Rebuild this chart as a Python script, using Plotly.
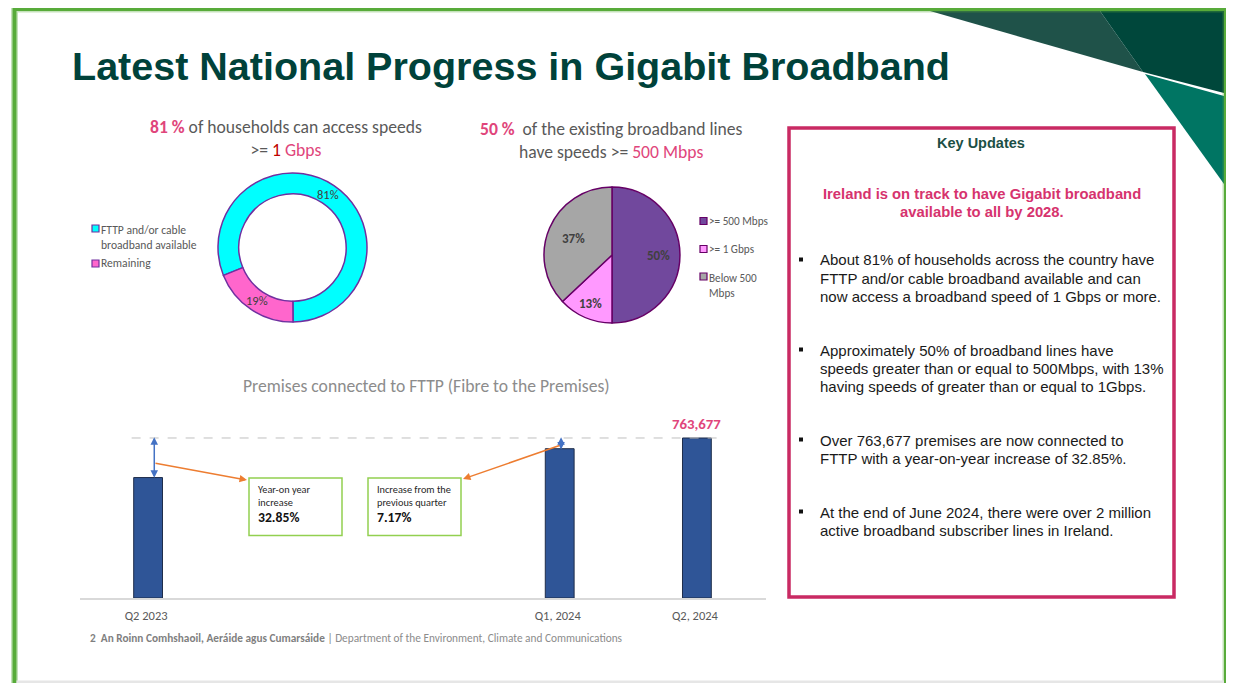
import math
import plotly.graph_objects as go

# the page body adds an 8px margin, so the figure fills the rest of the window
W, H = 1226, 675
OFF = 8

# donut: households that can access gigabit speeds
access_labels = ['FTTP and/or cable broadband available', 'Remaining']
access_legend = ['FTTP and/or cable<br>broadband available', 'Remaining']
access_values = [81, 19]
access_colors = ['#00ffff', '#ff66cc']

# pie: existing broadband lines by speed
speed_labels = ['>= 500 Mbps', '>= 1 Gbps', 'Below 500 Mbps']
speed_legend = ['&gt;= 500 Mbps', '&gt;= 1 Gbps', 'Below 500<br>Mbps']
speed_values = [50, 13, 37]
speed_colors = ['#71489d', '#ff99ff', '#a6a6a6']

# bars: premises connected to FTTP
quarters = ['Q2 2023', 'Q3 2023', 'Q4 2023', 'Q1, 2024', 'Q2, 2024']
premises = [574842, None, None, 712585, 763677]
shown_quarters = ['Q2 2023', 'Q1, 2024', 'Q2, 2024']

key_points = [
    ['About 81% of households across the country have',
     'FTTP and/or cable broadband available and can',
     'now access a broadband speed of 1 Gbps or more.'],
    ['Approximately 50% of broadband lines have',
     'speeds greater than or equal to 500Mbps, with 13%',
     'having speeds of greater than or equal to 1Gbps.'],
    ['Over 763,677 premises are now connected to',
     'FTTP with a year-on-year increase of 32.85%.'],
    ['At the end of June 2024, there were over 2 million',
     'active broadband subscriber lines in Ireland.'],
]

CAL = 'Carlito, Lato, sans-serif'
ARIAL = 'Arial, Liberation Sans, sans-serif'
PINK = '#e0457b'
GREY = '#595959'


def px(x):
    return (x - OFF) / W


def py(y):
    return 1 - (y - OFF) / H


def note(text, x, y, size, color, family=CAL, xanchor='left', yanchor='middle', align='left'):
    if xanchor == 'left':
        x -= 2
    fig.add_annotation(text=text, x=px(x), y=py(y), xref='paper', yref='paper',
                       xanchor=xanchor, yanchor=yanchor, align=align, showarrow=False,
                       font=dict(size=size, color=color, family=family))


def box(x0, y0, x1, y1, line_color, width=1, fill='rgba(0,0,0,0)'):
    fig.add_shape(type='rect', xref='paper', yref='paper',
                  x0=px(x0), x1=px(x1), y0=py(y0), y1=py(y1),
                  line=dict(color=line_color, width=width), fillcolor=fill)


def poly(points, color):
    path = 'M ' + ' L '.join(f'{px(x)},{py(y)}' for x, y in points) + ' Z'
    fig.add_shape(type='path', path=path, xref='paper', yref='paper',
                  fillcolor=color, line=dict(width=0), layer='below')


def slice_labels(values, cx, cy, r, rotation, radii, size, bold=False):
    # percent label at the middle angle of each clockwise slice
    total = sum(values)
    start = rotation
    for v, f in zip(values, radii):
        mid = math.radians(start + v / total * 180)
        text = f'{round(v / total * 100)}%'
        if bold:
            text = f'<b>{text}</b>'
        note(text, cx + r * f * math.sin(mid), cy - r * f * math.cos(mid), size,
             '#404040', xanchor='center')
        start += v / total * 360


fig = go.Figure()

fig.add_trace(go.Pie(
    labels=access_labels, values=access_values, hole=0.72, sort=False,
    direction='clockwise', rotation=-112,
    marker=dict(colors=access_colors, line=dict(color='#7030a0', width=1.5)),
    textinfo='none',
    domain=dict(x=[px(218), px(367)], y=[py(322), py(173)]),
    showlegend=False,
))

fig.add_trace(go.Pie(
    labels=speed_labels, values=speed_values, sort=False,
    direction='clockwise', rotation=0,
    marker=dict(colors=speed_colors, line=dict(color='#660066', width=1.5)),
    textinfo='none',
    domain=dict(x=[px(544), px(680)], y=[py(323), py(187)]),
    showlegend=False,
))

fig.add_trace(go.Bar(
    x=quarters, y=premises, width=0.21,
    marker=dict(color='#2f5597', line=dict(color='#1f2d4a', width=1)),
    showlegend=False,
))

# bar axis scale: 763,677 spans 160 px above the baseline at y=598
ymax = 800000
top_px = 598 - ymax * 160 / premises[-1]
fig.update_layout(
    width=W, height=H, margin=dict(l=0, r=0, t=0, b=0),
    paper_bgcolor='white', plot_bgcolor='rgba(0,0,0,0)',
    xaxis=dict(domain=[px(79.5), px(765.5)], type='category',
               categoryorder='array', categoryarray=quarters,
               tickvals=shown_quarters, ticktext=shown_quarters,
               showline=True, linecolor='#d9d9d9', linewidth=1.5,
               showgrid=False, ticks='', ticklabelshift=-2, ticklabelstandoff=5,
               tickfont=dict(family=CAL, size=12.5, color=GREY)),
    yaxis=dict(domain=[py(598), py(top_px)], range=[0, ymax], visible=False),
)

# slide frame and corner decoration
box(14.5, 9, 1226, 700, 'rgba(90,171,58,0.35)', width=7)
box(14.5, 9, 1226, 700, '#58ab3a', width=4)
fig.add_shape(type='rect', xref='paper', yref='paper', x0=px(16.5), x1=px(1224),
              y0=py(683), y1=py(680.5), fillcolor='#e6e6e6', line=dict(width=0))
poly([(930, 11), (1100, 11), (1143, 72)], '#1f5249')
poly([(1100, 11), (1224, 11), (1224, 93), (1143, 72)], '#00473b')
poly([(1145, 74), (1224, 96), (1224, 184)], '#007563')

note('<b>Latest National Progress in Gigabit Broadband</b>', 72, 66, 39.5, '#00423a',
     family=ARIAL)

# donut title, slice labels and legend
note(f'<span style="color:{PINK}"><b>{access_values[0]} %</b></span> of households can access speeds<br>'
     f'&gt;= <span style="color:#c00000">1</span> <span style="color:{PINK}">Gbps</span>',
     286, 138, 17.6, GREY, xanchor='center', align='center')
slice_labels(access_values, 292.5, 247.5, 74, -112, [0.86, 0.86], 12.5)
for label, color, yc in zip(access_legend, access_colors, [228.5, 263.5]):
    box(92, yc - 3.5, 99, yc + 3.5, '#7030a0', width=1.2, fill=color)
    if '<br>' in label:
        note(label, 101, yc - 7.5, 11.6, GREY, yanchor='top')
    else:
        note(label, 101, yc, 11.6, GREY)

# pie title, slice labels and legend
note(f'<span style="color:{PINK}"><b>{speed_values[0]} %</b></span>  of the existing broadband lines<br>'
     f'have speeds &gt;= <span style="color:{PINK}">500 Mbps</span>',
     611, 140, 17.6, GREY, xanchor='center', align='center')
slice_labels(speed_values, 612, 255, 68, 0, [0.68, 0.78, 0.62], 13, bold=True)
for label, color, yc in zip(speed_legend, speed_colors, [221, 249, 276.5]):
    box(700, yc - 3.5, 707, yc + 3.5, '#660066', width=1.2, fill=color)
    if '<br>' in label:
        note(label, 709, yc - 7.5, 11.2, GREY, yanchor='top')
    else:
        note(label, 709, yc, 11.2, GREY)

# key updates panel
box(789, 128, 1174, 597, '#c92a63', width=3.5)
note('<b>Key Updates</b>', 981, 143, 14.5, '#1b4f45', family=ARIAL, xanchor='center')
for i, line in enumerate(['Ireland is on track to have Gigabit broadband',
                          'available to all by 2028.']):
    note(f'<b>{line}</b>', 982, 194 + 18 * i, 14.8, '#d6336e', family=ARIAL,
         xanchor='center')
for lines, first_y in zip(key_points, [260, 350, 440, 512]):
    for i, line in enumerate(lines):
        note(line, 820, first_y + 18 * i, 15, '#1a1a1a', family=ARIAL)
    box(799, first_y - 2.5, 803, first_y + 1.5, '#111111', width=0, fill='#111111')

# bar chart title, labels and call-outs
note('Premises connected to FTTP (Fibre to the Premises)', 426, 386, 17.6, '#8c8c8c',
     xanchor='center')
fig.add_annotation(x=quarters[-1], y=premises[-1], xref='x', yref='y', yanchor='bottom',
                   yshift=3, showarrow=False, text=f'<b>{premises[-1]:,}</b>',
                   font=dict(family=CAL, size=14.8, color=PINK))
fig.add_shape(type='line', xref='x', yref='y', x0=-0.12, x1=4.19,
              y0=premises[-1], y1=premises[-1], line=dict(color='#bfbfbf', width=1, dash='dash'))

for xpos, base in [(0.045, premises[0]), (3.01, premises[3])]:
    fig.add_annotation(x=xpos, y=premises[-1] * 1.005, ax=xpos, ay=base * 0.985,
                       xref='x', yref='y', axref='x', ayref='y', text='',
                       showarrow=True, arrowside='end+start', arrowhead=2,
                       arrowsize=1, arrowwidth=1.5, arrowcolor='#4472c4')

for hx, hy, tx, ty in [(247, 480, 154, 463), (463, 479, 561, 445)]:
    fig.add_annotation(x=px(hx), y=py(hy), xref='paper', yref='paper',
                       ax=tx - hx, ay=ty - hy, text='', showarrow=True,
                       arrowhead=2, arrowsize=1, arrowwidth=1.5, arrowcolor='#ed7d31')

yoy = (premises[-1] / premises[0] - 1) * 100
qoq = (premises[-1] / premises[3] - 1) * 100
for x0, label, value in [(249, 'Year-on year<br>increase', yoy),
                         (368, 'Increase from the<br>previous quarter', qoq)]:
    box(x0, 478, x0 + 93, 535.5, '#92d050', width=1.5)
    note(label, x0 + 9, 495.5, 10.3, '#262626')
    note(f'<b>{value:.2f}%</b>', x0 + 9, 517, 13.7, '#111111')

note('<b>2  An Roinn Comhshaoil, Aeráide agus Cumarsáide</b> | '
     '<span style="color:#8c8c8c">Department of the Environment, Climate and Communications</span>',
     90, 638, 11.3, '#7f7f7f')

fig.write_html('out.html')
